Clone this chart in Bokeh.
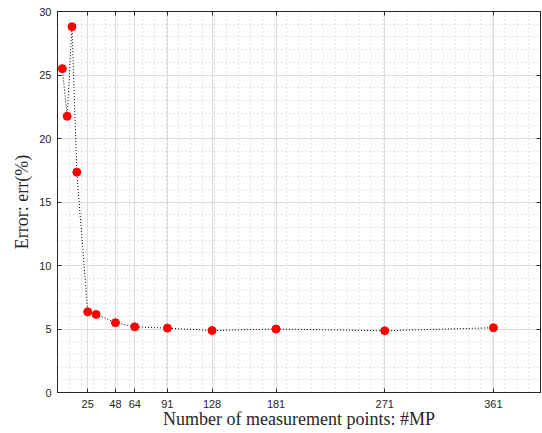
from bokeh.plotting import figure
from bokeh.models import FixedTicker, LinearAxis, ColumnDataSource, CustomLabelingPolicy
from bokeh.embed import file_html
from bokeh.resources import INLINE

mp = [4, 8, 12, 16, 25, 32, 48, 64, 91, 128, 181, 271, 361]
err = [25.5, 21.75, 28.8, 17.35, 6.35, 6.15, 5.5, 5.17, 5.07, 4.88, 5.0, 4.86, 5.1]
x_ticks = [25, 48, 64, 91, 128, 181, 271, 361]
x_minor = list(range(0, 401, 10))
y_ticks = [0, 5, 10, 15, 20, 25, 30]
y_minor = list(range(0, 31, 1))
x_label = "Number of measurement points: #MP"
y_label = "Error: err(%)"

src = ColumnDataSource(dict(x=mp, y=err))

W, H = 542, 433
BL, BT, BR, BB = 57, 11, 2, 41
p = figure(width=W, height=H, x_range=(0, 400), y_range=(0, 30),
           output_backend="svg", toolbar_location=None,
           min_border_left=BL, min_border_top=BT, min_border_right=BR, min_border_bottom=BB,
           x_axis_label=x_label, y_axis_label=y_label)
p.outline_line_color = "#262626"
p.background_fill_color = "white"

xt = FixedTicker(ticks=x_ticks, minor_ticks=x_minor)
yt = FixedTicker(ticks=y_ticks, minor_ticks=y_minor)
p.xaxis.ticker = xt
p.yaxis.ticker = yt

for ax in [p.xaxis[0], p.yaxis[0]]:
    ax.major_tick_in = 4
    ax.major_tick_out = 0
    ax.minor_tick_in = 0
    ax.minor_tick_out = 0
    ax.axis_line_color = "#262626"
    ax.major_tick_line_color = "#262626"
    ax.major_label_text_font = "Liberation Sans"
    ax.major_label_text_font_size = "11px"
    ax.major_label_text_color = "#262626"
    ax.axis_label_text_font = "Liberation Serif"
    ax.axis_label_text_font_size = "18px"
    ax.axis_label_text_font_style = "normal"
    ax.axis_label_text_color = "#262626"
p.xaxis[0].major_label_standoff = 7
p.xaxis[0].axis_label_standoff = -2
p.yaxis[0].major_label_standoff = 6
p.yaxis[0].axis_label_standoff = 4

hide = CustomLabelingPolicy(code="""
try { for (const i of Array.from(indices)) indices.unset(i); } catch (e) {}
return indices
""")
for loc, tk in [("right", yt), ("above", xt)]:
    a = LinearAxis(ticker=tk, major_label_text_font_size="0px", major_label_standoff=0,
                   major_label_policy=hide,
                   major_tick_in=4, major_tick_out=0, minor_tick_in=0, minor_tick_out=0,
                   axis_line_color="#262626", major_tick_line_color="#262626")
    p.add_layout(a, loc)

for g, tk in [(p.xgrid[0], xt), (p.ygrid[0], yt)]:
    g.ticker = tk
    g.grid_line_color = "#dcdcdc"
    g.grid_line_width = 1
    g.minor_grid_line_color = "#c8c8c8"
    g.minor_grid_line_dash = "1 3"
    g.minor_grid_line_width = 1

p.line("x", "y", source=src, line_color="black", line_dash="1 2", line_width=1)
p.scatter("x", "y", source=src, size=8, fill_color="#ff0000", line_color="#ff0000")

open("out.html", "w").write(file_html(p, INLINE))
